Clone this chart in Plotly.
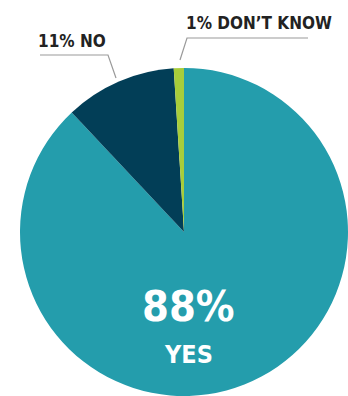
import plotly.graph_objects as go

labels = ["YES", "NO", "DON\u2019T KNOW"]
values = [88, 11, 1]
colors = ["#249dac", "#023e57", "#a8cd3a"]

W, H = 348, 396
FONT = "DejaVu Sans Condensed, Liberation Sans Narrow, sans-serif"

def px(x):
    return x / W

def py(y):
    return 1 - y / H

fig = go.Figure(go.Pie(
    labels=labels, values=values, sort=False, direction="clockwise", rotation=0,
    marker=dict(colors=colors, line=dict(width=0)),
    textinfo="none", hoverinfo="label+percent", showlegend=False,
    domain=dict(x=[20 / W, 1], y=[0, 328 / H]),
))

anns = [
    dict(x=px(188), y=py(306), text=f"<b>{values[0]}%</b>", font=dict(size=43, color="white", family=FONT),
         xanchor="center", yanchor="middle"),
    dict(x=px(188), y=py(354), text=f"<b>{labels[0]}</b>", font=dict(size=25, color="white", family=FONT),
         xanchor="center", yanchor="middle"),
    dict(x=px(36), y=py(41), text=f"<b>{values[1]}% {labels[1]}</b>", font=dict(size=17, color="#222", family=FONT),
         xanchor="left", yanchor="middle"),
    dict(x=px(184), y=py(23), text=f"<b>{values[2]}% {labels[2]}</b>", font=dict(size=17, color="#222", family=FONT),
         xanchor="left", yanchor="middle"),
]
for a in anns:
    a.update(xref="paper", yref="paper", showarrow=False)

line = dict(color="#9a9a9a", width=1.2)
shapes = [
    dict(type="path", path=f"M {px(40)} {py(55)} L {px(108)} {py(55)} L {px(116)} {py(78)}"),
    dict(type="path", path=f"M {px(308)} {py(38)} L {px(187)} {py(38)} L {px(180)} {py(60)}"),
]
for s in shapes:
    s.update(xref="paper", yref="paper", line=line)

fig.update_layout(
    width=W, height=H, margin=dict(l=0, r=0, t=0, b=0),
    paper_bgcolor="white", plot_bgcolor="white",
    annotations=anns, shapes=shapes,
)

fig.write_html("out.html")
